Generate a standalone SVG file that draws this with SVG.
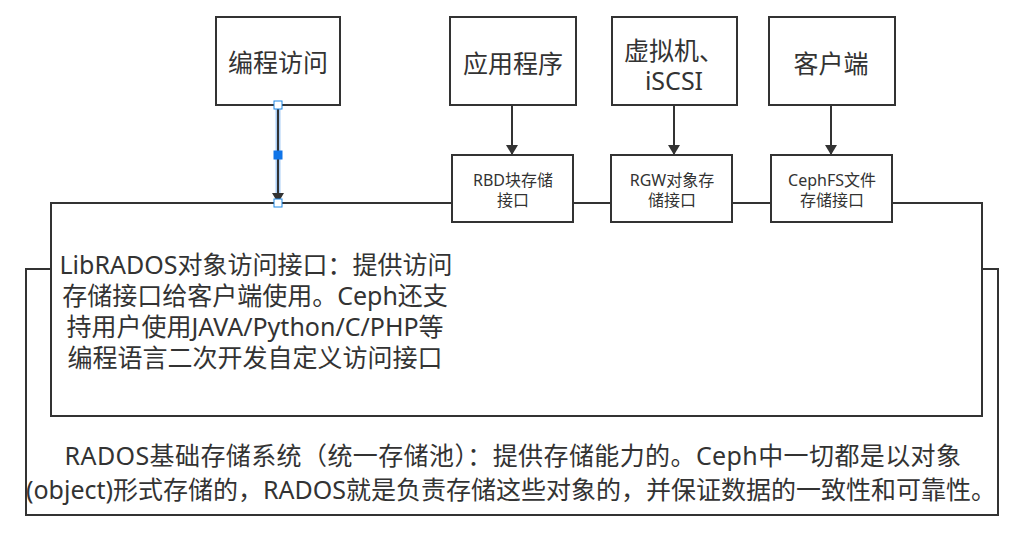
<svg xmlns="http://www.w3.org/2000/svg" width="1027" height="536" viewBox="0 0 1027 536">
<style>
.box{fill:#ffffff;stroke:#333333;stroke-width:2}
.t{font-family:"Noto Sans","Noto Sans CJK SC",sans-serif;fill:#333333;text-anchor:middle;dominant-baseline:central}
.big{font-size:25px}
.sm{font-size:16px}
.edge{stroke:#333333;stroke-width:2;fill:none}
</style>
<defs>
<marker id="arr" viewBox="0 0 10 12" markerWidth="10" markerHeight="12" refX="10" refY="6" orient="auto" markerUnits="userSpaceOnUse">
<path d="M0,0 L10,6 L0,12 Z" fill="#333333"/>
</marker>
</defs>
<rect width="1027" height="536" fill="#ffffff"/>
<g id="rados">
<rect class="box" x="26" y="269" width="972" height="246"/>
<text class="t big" x="513" y="455" letter-spacing="0.4">RADOS基础存储系统（统一存储池）：提供存储能力的。Ceph中一切都是以对象</text>
<text class="t big" x="511" y="489">(object)形式存储的，RADOS就是负责存储这些对象的，并保证数据的一致性和可靠性。</text>
</g>
<g id="librados">
<rect class="box" x="51" y="203" width="931" height="213"/>
<text class="t big" x="256" y="264">LibRADOS对象访问接口：提供访问</text>
<text class="t big" x="255" y="295">存储接口给客户端使用。Ceph还支</text>
<text class="t big" x="255" y="326">持用户使用JAVA/Python/C/PHP等</text>
<text class="t big" x="255" y="357">编程语言二次开发自定义访问接口</text>
</g>
<g id="prog">
<rect class="box" x="216" y="17" width="124" height="88"/>
<text class="t big" x="278" y="62">编程访问</text>
</g>
<g id="app">
<rect class="box" x="450" y="17" width="126" height="88"/>
<text class="t big" x="513" y="63">应用程序</text>
</g>
<g id="vm">
<rect class="box" x="612" y="17" width="125" height="88"/>
<text class="t big"><tspan x="674" y="50">虚拟机、</tspan><tspan x="674" y="80">iSCSI</tspan></text>
</g>
<g id="client">
<rect class="box" x="769" y="17" width="126" height="88"/>
<text class="t big" x="831" y="63">客户端</text>
</g>
<g id="rbd">
<rect class="box" x="452" y="155" width="121" height="67"/>
<text class="t sm"><tspan x="513" y="180">RBD块存储</tspan><tspan x="513" y="200">接口</tspan></text>
</g>
<g id="rgw">
<rect class="box" x="611" y="155" width="121" height="67"/>
<text class="t sm"><tspan x="672" y="180">RGW对象存</tspan><tspan x="672" y="200">储接口</tspan></text>
</g>
<g id="cephfs">
<rect class="box" x="771" y="155" width="121" height="67"/>
<text class="t sm"><tspan x="832" y="180">CephFS文件</tspan><tspan x="832" y="200">存储接口</tspan></text>
</g>
<g id="connectors">
<line x1="278" y1="105" x2="278" y2="203" stroke="#a9cdf5" stroke-width="5"/>
<line class="edge" x1="278" y1="105" x2="278" y2="203" marker-end="url(#arr)"/>
<rect x="274" y="101" width="8" height="8" fill="#ffffff" stroke="#1e88e5" stroke-width="1"/>
<rect x="274" y="199" width="8" height="8" fill="#ffffff" stroke="#1e88e5" stroke-width="1"/>
<rect x="274" y="151" width="8" height="8" fill="#1075e8" stroke="#1075e8" stroke-width="1"/>
<line class="edge" x1="512" y1="105" x2="512" y2="155" marker-end="url(#arr)"/>
<line class="edge" x1="674" y1="105" x2="674" y2="155" marker-end="url(#arr)"/>
<line class="edge" x1="831" y1="105" x2="831" y2="155" marker-end="url(#arr)"/>
</g>
</svg>
